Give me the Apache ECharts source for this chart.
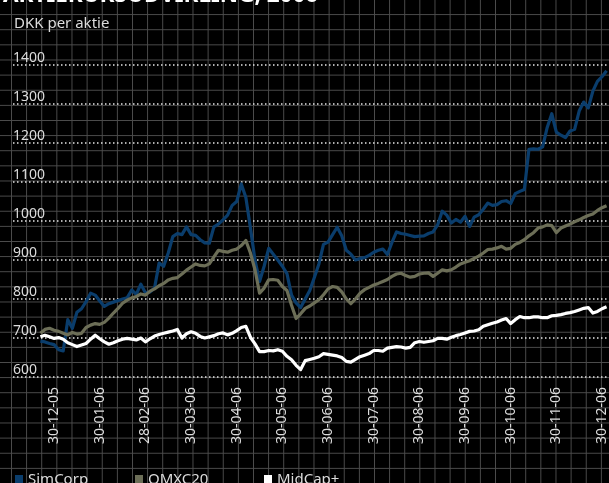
<!DOCTYPE html>
<html>
<head>
<meta charset="utf-8">
<script src="https://cdn.jsdelivr.net/npm/echarts@6/dist/echarts.min.js"></script>
<style>
  html, body { margin: 0; padding: 0; }
  body {
    width: 609px; height: 483px; overflow: hidden;
    background-color: #000;
    background-image:
      linear-gradient(to right, #4d4d4d 0, #4d4d4d 1.4px, transparent 1.4px),
      linear-gradient(to bottom, #4d4d4d 0, #4d4d4d 1.4px, transparent 1.4px);
    background-size: 15.13px 15.13px;
    background-position: 11px -1px;
  }
  #chart { width: 609px; height: 483px; }
</style>
</head>
<body>
<div id="chart"></div>
<script>
// Tick labels (monthly) shown on the x axis
var tickLabels = ['30-12-05','30-01-06','28-02-06','30-03-06','30-04-06','30-05-06','30-06-06',
                  '30-07-06','30-08-06','30-09-06','30-10-06','30-11-06','30-12-06'];
var seriesNames = ['SimCorp', 'OMXC20', 'MidCap+'];

var simcorp = [692,690,686,683,670,667,747,725,766,775,793,815,810,795,781,788,792,796,800,803,
  823,812,838,816,818,828,892,884,918,960,968,965,985,965,963,952,944,943,985,992,
  1003,1015,1040,1050,1095,1060,982,900,845,884,930,915,900,884,865,810,790,778,800,822,
  855,890,940,946,965,984,962,925,915,900,904,906,912,920,925,928,914,945,972,968,
  966,963,960,961,962,968,972,990,1025,1015,995,1004,997,1012,986,1010,1016,1030,1046,1040,
  1042,1050,1052,1045,1070,1076,1081,1184,1185,1184,1190,1240,1275,1228,1220,1214,1231,1235,1282,1305,
  1290,1333,1358,1370,1385];
var omxc20 = [712,722,725,720,717,712,708,714,710,712,727,733,737,735,740,751,764,776,789,797,
  803,806,813,810,820,826,834,840,849,853,855,864,874,882,890,886,885,890,908,925,
  922,920,925,928,937,950,918,875,815,828,849,850,848,832,822,784,750,762,776,782,
  790,798,811,826,832,830,818,800,788,800,815,824,830,836,840,845,850,858,864,866,
  860,856,858,864,866,867,858,866,875,872,875,882,890,894,898,904,910,918,927,928,
  931,935,928,930,940,945,952,962,970,982,985,990,988,970,982,987,992,998,1003,1009,
  1014,1018,1027,1034,1039];
var midcap = [703,707,703,699,701,697,688,683,678,682,686,697,707,698,690,684,688,693,697,699,
  697,695,700,690,698,705,709,712,715,718,722,700,711,716,712,704,700,703,706,711,
  713,708,712,719,727,730,702,685,665,665,668,667,670,666,653,644,630,619,642,645,
  648,652,660,658,656,654,650,640,638,645,652,656,660,668,668,666,674,676,678,677,
  674,676,688,691,689,691,693,699,699,697,702,706,709,713,717,718,721,730,734,738,
  741,746,750,737,747,755,752,752,754,754,752,752,757,758,760,763,765,768,772,776,
  778,764,768,775,780];

// Build the category axis: a few empty leading slots so the value grid lines reach the labels
var padCount = 6;
var firstTickOffset = 3;
var tickStep = 10;
var categories = [];
var i;
for (i = 0; i < padCount + simcorp.length; i++) {
  var k = i - padCount - firstTickOffset;
  if (k >= 0 && k % tickStep === 0 && tickLabels[k / tickStep] !== undefined) {
    categories.push(tickLabels[k / tickStep]);
  } else {
    categories.push('p' + i);
  }
}
function padded(arr) {
  var out = [];
  for (var j = 0; j < padCount; j++) out.push(null);
  return out.concat(arr);
}

var colors = ['#0a3d6c', '#6c6e57', '#ffffff'];
var font = 'Noto Sans';
var textColor = '#dcdcdc';

var chart = echarts.init(document.getElementById('chart'), null, { renderer: 'canvas' });
chart.setOption({
  backgroundColor: 'transparent',
  animation: false,
  title: [
    { text: 'AKTIEKURSUDVIKLING, 2006', left: -2, top: -21,
      textStyle: { color: '#ffffff', fontFamily: font, fontWeight: 'bold', fontSize: 22.5 } },
    { text: 'DKK per aktie', left: 9, top: 11,
      textStyle: { color: textColor, fontFamily: font, fontWeight: 'normal', fontSize: 15 } }
  ],
  legend: [0, 1, 2].map(function (n) {
    return {
      data: [seriesNames[n]],
      left: [10, 130, 259][n], top: 467,
      icon: 'rect', itemWidth: 8, itemHeight: 9, itemGap: 6,
      textStyle: { color: textColor, fontFamily: font, fontSize: 15 }
    };
  }),
  grid: { left: 13, right: 1, top: 65, bottom: 106, containLabel: false },
  xAxis: {
    type: 'category',
    data: categories,
    boundaryGap: false,
    axisLine: { show: false },
    axisTick: { show: false },
    splitLine: { show: false },
    axisLabel: {
      rotate: 90,
      margin: 10,
      color: textColor,
      fontFamily: font,
      fontSize: 14,
      interval: function (idx) {
        var k = idx - padCount - firstTickOffset;
        return k >= 0 && k % tickStep === 0;
      }
    }
  },
  yAxis: {
    type: 'value',
    min: 600, max: 1400, interval: 100,
    axisLine: { show: false },
    axisTick: { show: false },
    axisLabel: {
      inside: true, margin: 0,
      verticalAlign: 'bottom',
      formatter: function (v) { return String(v); },
      color: textColor, fontFamily: font, fontSize: 14
    },
    splitLine: { show: true, lineStyle: { color: '#e6e6e6', width: 1.5, type: [1.5, 2.5] } }
  },
  series: [simcorp, omxc20, midcap].map(function (arr, n) {
    return {
      name: seriesNames[n],
      type: 'line',
      data: padded(arr),
      showSymbol: false,
      symbol: 'none',
      connectNulls: false,
      itemStyle: { color: colors[n] },
      lineStyle: { color: colors[n], width: 3.2, join: 'round' }
    };
  })
});
</script>
</body>
</html>
